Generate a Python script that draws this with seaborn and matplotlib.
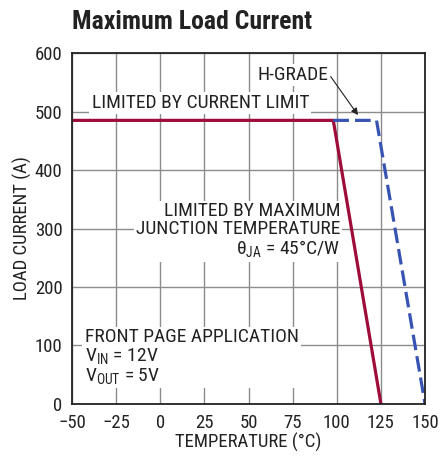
import matplotlib
matplotlib.use("Agg")
import matplotlib.pyplot as plt
import seaborn as sns
import pandas as pd

# ---- data ----
std_temp = [-50, 98, 125]
std_current = [485, 485, 0]
hgrade_temp = [98, 122.5, 150]
hgrade_current = [485, 485, 0]

x_ticks = [-50, -25, 0, 25, 50, 75, 100, 125, 150]
y_ticks = [0, 100, 200, 300, 400, 500, 600]

sns.set_style("white")
plt.rcParams['font.family'] = ['Roboto Condensed', 'Roboto', 'DejaVu Sans']
plt.rcParams['mathtext.fontset'] = 'custom'
plt.rcParams['mathtext.rm'] = 'Roboto Condensed'
plt.rcParams['mathtext.default'] = 'regular'
plt.rcParams['axes.unicode_minus'] = True

RED = "#9e0d3a"
BLUE = "#3854b2"
GRID = "#8c8c8c"
INK = "#222222"

fig = plt.figure(figsize=(4.4, 4.58), dpi=100)
ax = fig.add_axes([0.164, 0.118, 0.802, 0.766])

std = pd.DataFrame({"temp": std_temp, "current": std_current})
hg = pd.DataFrame({"temp": hgrade_temp, "current": hgrade_current})

sns.lineplot(data=std, x="temp", y="current", sort=False, color=RED,
             linewidth=2.3, ax=ax, zorder=3)
sns.lineplot(data=hg, x="temp", y="current", sort=False, color=BLUE,
             linewidth=2.3, ax=ax, zorder=3)
ax.lines[-1].set_dashes([4.9, 1.9])

ax.set_xlim(-50, 150)
ax.set_ylim(0, 600)
ax.set_xticks(x_ticks)
ax.set_yticks(y_ticks)
ax.set_xticklabels([str(t).replace("-", "\u2212") for t in x_ticks])
ax.grid(True, color=GRID, linewidth=1.0)
ax.tick_params(axis="both", length=0, labelsize=13.5, colors=INK)
ax.tick_params(axis="x", pad=7)
ax.tick_params(axis="y", pad=7)
for s in ax.spines.values():
    s.set_color(INK)
    s.set_linewidth(1.3)
    s.set_zorder(4)

ax.set_xlabel("TEMPERATURE (\u00b0C)", fontsize=13.5, color=INK, labelpad=1)
ax.set_ylabel("LOAD CURRENT (A)", fontsize=13.5, color=INK, labelpad=2)

fig.text(0.164, 0.951, "Maximum Load Current", fontsize=18.5, fontweight="bold",
         color=INK, ha="left", va="center")

box = dict(facecolor="white", edgecolor="none", pad=1.5)
ax.text(-39, 515, "LIMITED BY CURRENT LIMIT", fontsize=14, color=INK,
        ha="left", va="center", bbox=box, zorder=2)
ax.text(95, 562, "H-GRADE", fontsize=14, color=INK,
        ha="right", va="center", bbox=box, zorder=2)
ax.annotate("", xy=(112, 494), xytext=(96.5, 560),
            arrowprops=dict(arrowstyle="-|>", color=INK, lw=0.8,
                            mutation_scale=10, shrinkA=0, shrinkB=0), zorder=5)
ax.text(102, 296, "LIMITED BY MAXIMUM\nJUNCTION TEMPERATURE\n\u03b8$_{JA}$ = 45\u00b0C/W",
        fontsize=14, color=INK, ha="right", va="center",
        linespacing=1.0, bbox=box, zorder=2)
ax.text(-43, 80, "FRONT PAGE APPLICATION\nV$_{IN}$ = 12V\nV$_{OUT}$ = 5V",
        fontsize=14, color=INK, ha="left", va="center",
        linespacing=1.0, bbox=box, zorder=2)

fig.savefig("out.png", dpi=100)
